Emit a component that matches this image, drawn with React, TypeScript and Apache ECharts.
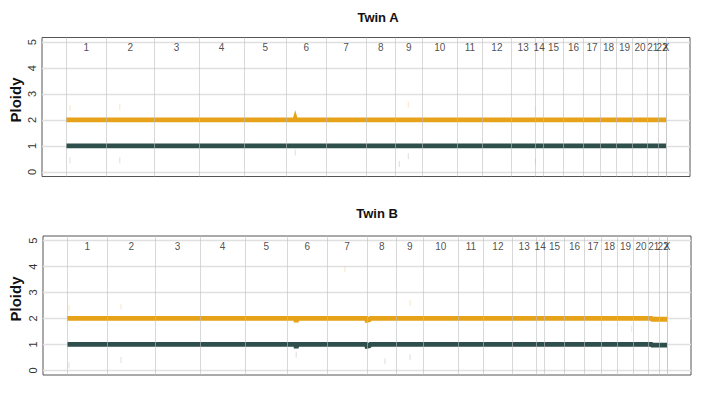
import React, { useEffect, useRef } from "react";
import * as echarts from "echarts";

// Chromosome names and their widths (in bins) along the genome axis
const chromNames = ["1","2","3","4","5","6","7","8","9","10","11","12","13","14","15","16","17","18","19","20","21","22","X"];
const chromSizes = [404, 476, 450, 450, 420, 400, 397, 293, 270, 350, 250, 290, 234, 86, 200, 200, 170, 160, 160, 150, 104, 80, 0];
const yTicks = [0, 1, 2, 3, 4, 5];

// Ploidy tracks: [bin, ploidy]
const twinATotal = [[0, 2.0], [2286, 2.0], [2290, 2.05], [2294, 2.0], [5994, 2.0]];
const twinAMinor = [[0, 1.0], [2287, 1.0], [2290, 0.98], [2293, 1.0], [5994, 1.0]];
const twinBTotal = [[0, 2.0], [2284, 2.0], [2290, 1.86], [2296, 1.97], [2302, 2.0], [2990, 2.0], [2996, 1.93], [3020, 1.95], [3032, 2.0], [5838, 2.0], [5846, 1.97], [5994, 1.97]];
const twinBMinor = [[0, 1.0], [2284, 1.0], [2290, 0.86], [2296, 0.97], [2302, 1.0], [2990, 1.0], [2996, 0.93], [3020, 0.95], [3032, 1.0], [5838, 1.0], [5846, 0.97], [5994, 0.97]];

// Faint outlier bins
const twinAOutTotal = [[40, 2.45], [537, 2.5], [2290, 2.25], [3420, 2.6], [4690, 2.4]];
const twinAOutMinor = [[40, 0.45], [537, 0.45], [2290, 0.75], [3330, 0.3], [3420, 0.6], [4690, 0.4]];
const twinBOutTotal = [[20, 2.4], [540, 2.45], [2777, 3.9], [3427, 2.6], [5640, 1.6]];
const twinBOutMinor = [[20, 0.2], [540, 0.4], [2290, 0.6], [3177, 0.35], [3427, 0.5]];

const ORANGE = "#E6A219";
const DARK = "#2E4F4C";

function boundaries(): number[] {
  const b = [0];
  let s = 0;
  for (const c of chromSizes) { s += c; b.push(s); }
  return b;
}

function centers(): { name: string; value: number[] }[] {
  const out: { name: string; value: number[] }[] = [];
  let s = 0;
  chromSizes.forEach((c, i) => {
    out.push({ name: chromNames[i], value: [s + c / 2, 4.78] });
    s += c;
  });
  return out;
}

export default function App() {
  const ref = useRef<HTMLDivElement>(null);
  useEffect(() => {
    if (!ref.current) return;
    const chart = echarts.init(ref.current, null, { renderer: "svg" });
    const bounds = boundaries();
    const total = bounds[bounds.length - 1];
    const pad = total * 0.04;
    const grids = [
      { left: 42, top: 37.5, width: 648, height: 139 },
      { left: 43, top: 236, width: 648, height: 139 },
    ];
    const panels = [
      { t: twinATotal, m: twinAMinor, ot: twinAOutTotal, om: twinAOutMinor },
      { t: twinBTotal, m: twinBMinor, ot: twinBOutTotal, om: twinBOutMinor },
    ];
    const series: any[] = [];
    panels.forEach((p, i) => {
      series.push({
        type: "line", xAxisIndex: i, yAxisIndex: i, data: [], z: 1, silent: true,
        markLine: {
          z: 1, silent: true, symbol: ["none", "none"], label: { show: false },
          lineStyle: { type: "solid", color: "#e0e0e0", width: 1.3 },
          data: yTicks.map((v) => ({ yAxis: v })),
        },
      });
      series.push({
        type: "scatter", xAxisIndex: i, yAxisIndex: i, data: p.ot, z: 2, silent: true,
        symbol: "rect", symbolSize: [1.2, 6], itemStyle: { color: ORANGE, opacity: 0.22 },
      });
      series.push({
        type: "scatter", xAxisIndex: i, yAxisIndex: i, data: p.om, z: 2, silent: true,
        symbol: "rect", symbolSize: [1.2, 6], itemStyle: { color: DARK, opacity: 0.15 },
      });
      series.push({
        type: "line", xAxisIndex: i, yAxisIndex: i, data: p.t, z: 3, showSymbol: false, silent: true,
        lineStyle: { color: ORANGE, width: 4.8, cap: "butt", join: "miter" },
      });
      series.push({
        type: "line", xAxisIndex: i, yAxisIndex: i, data: p.m, z: 3, showSymbol: false, silent: true,
        lineStyle: { color: DARK, width: 4.8, cap: "butt", join: "miter" },
      });
      series.push({
        type: "line", xAxisIndex: i, yAxisIndex: i, data: [], z: 4, silent: true,
        markLine: {
          z: 4, silent: true, symbol: ["none", "none"], label: { show: false },
          lineStyle: { type: "solid", color: "rgba(190,190,190,0.6)", width: 1 },
          data: bounds.map((v) => ({ xAxis: v })),
        },
      });
      series.push({
        type: "scatter", xAxisIndex: i, yAxisIndex: i, data: centers(), z: 5, silent: true,
        symbolSize: 1, itemStyle: { color: "rgba(0,0,0,0)" },
        label: {
          show: true, position: "inside", formatter: "{b}", color: "#222",
          fontSize: 10, fontFamily: "Liberation Sans, Arial, sans-serif",
        },
      });
    });
    chart.setOption({
      animation: false,
      backgroundColor: "#fff",
      grid: grids.map((g) => ({ ...g, show: true, borderColor: "#555", borderWidth: 1, backgroundColor: "transparent" })),
      xAxis: [0, 1].map((i) => ({
        type: "value", gridIndex: i, min: -pad, max: total + pad, show: false,
        splitLine: { show: false },
      })),
      yAxis: [0, 1].map((i) => ({
        type: "value", gridIndex: i, min: -0.18, max: 5.18,
        axisLine: { show: false },
        splitLine: { show: false },
        axisTick: { show: true, length: 4, customValues: yTicks, lineStyle: { color: "#444" } },
        axisLabel: {
          show: true, customValues: yTicks, rotate: 90, margin: 5, color: "#333",
          fontSize: 11, fontFamily: "Liberation Sans, Arial, sans-serif",
        },
      })),
      graphic: [
        { type: "text", x: 378, y: 17, style: { text: "Twin A", font: "bold 13px 'Liberation Sans', Arial, sans-serif", fill: "#111", textAlign: "center", textVerticalAlign: "middle" } },
        { type: "text", x: 377, y: 213, style: { text: "Twin B", font: "bold 13px 'Liberation Sans', Arial, sans-serif", fill: "#111", textAlign: "center", textVerticalAlign: "middle" } },
        { type: "text", x: 15, y: 100, rotation: Math.PI / 2, style: { text: "Ploidy", font: "bold 15px 'Liberation Sans', Arial, sans-serif", fill: "#111", textAlign: "center", textVerticalAlign: "middle" } },
        { type: "text", x: 15, y: 299, rotation: Math.PI / 2, style: { text: "Ploidy", font: "bold 15px 'Liberation Sans', Arial, sans-serif", fill: "#111", textAlign: "center", textVerticalAlign: "middle" } },
      ],
      series,
    });
    return () => chart.dispose();
  }, []);
  return <div ref={ref} style={{ width: 706, height: 414, position: "absolute", left: 0, top: 0 }} />;
}
